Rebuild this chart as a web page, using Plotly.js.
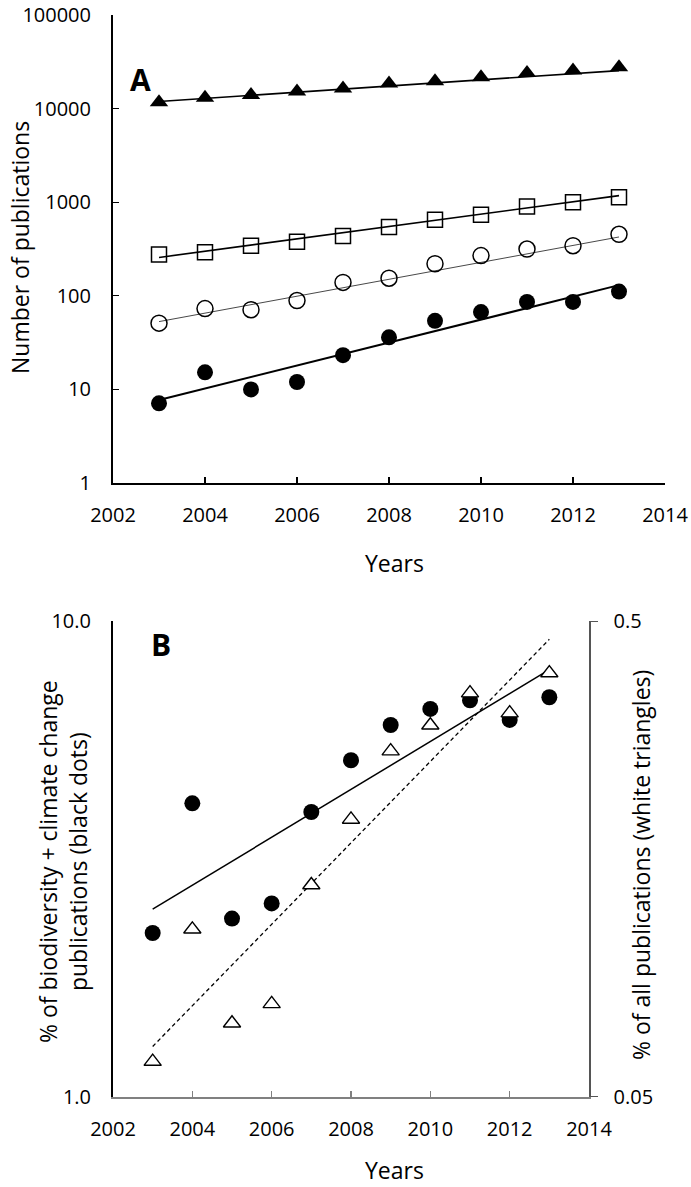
<!DOCTYPE html>
<html>
<head>
<meta charset="utf-8">
<script src="https://cdn.plot.ly/plotly-3.0.1.min.js"></script>
<style>
  html, body { margin: 0; padding: 0; background: #fff; }
  #chart { width: 691px; height: 1187px; }
</style>
</head>
<body>
<div id="chart"></div>
<script>
// ---------- Data ----------
const years = [2003, 2004, 2005, 2006, 2007, 2008, 2009, 2010, 2011, 2012, 2013];

// Panel A: number of publications
const allPubs       = [11700, 13100, 14000, 15200, 16400, 18500, 19600, 21600, 24000, 25600, 27700]; // filled triangles
const squarePubs    = [276, 292, 343, 378, 436, 542, 648, 736, 901, 1000, 1128];                   // open squares
const openCirclePubs= [51, 73, 71, 89, 139, 154, 220, 269, 316, 343, 454];                          // open circles
const dotPubs       = [7.1, 15.2, 10, 12, 23.2, 36, 54, 67, 86, 86, 111];                          // filled circles

// Fitted trend lines in panel A (end values)
const trendYears = [2003, 2013];
const allTrend        = [11900, 25500];
const squareTrend     = [257, 1175];
const openCircleTrend = [53, 425];
const dotTrend        = [7.7, 130];

// Panel B: percentages
const pctBioClim = [2.21, 4.14, 2.37, 2.55, 3.97, 5.1, 6.05, 6.54, 6.82, 6.2, 6.92];             // black dots (left axis)
const pctAll     = [0.0593, 0.1125, 0.0714, 0.0784, 0.1394, 0.1915, 0.2666, 0.3022, 0.353, 0.3204, 0.389]; // white triangles (right axis)
const pctBioClimTrend = [2.48, 7.91];
const pctAllTrend     = [0.0638, 0.458];

// Tick labels
const xTicks = [2002, 2004, 2006, 2008, 2010, 2012, 2014];
const yTicksA = [1, 10, 100, 1000, 10000, 100000];
const yTickTextA = ['1', '10', '100', '1000', '10000', '100000'];
const yTicksBLeft = [1, 10];
const yTickTextBLeft = ['1.0', '10.0'];
const yTicksBRight = [0.05, 0.5];
const yTickTextBRight = ['0.05', '0.5'];

// ---------- Styling ----------
const FONT = 'Open Sans, Noto Sans, sans-serif';
const tickFont = { family: FONT, size: 20, color: '#000' };
const titleFont = { family: FONT, size: 23, color: '#000' };
const W = 691, H = 1187;
const px = x => x / W;
const py = y => 1 - y / H;
const EPS = 0.0004;

const traces = [
  // Panel A trend lines
  { x: trendYears, y: allTrend, xaxis: 'x', yaxis: 'y', mode: 'lines', line: { color: '#000', width: 1.6 }, hoverinfo: 'skip' },
  { x: trendYears, y: squareTrend, xaxis: 'x', yaxis: 'y', mode: 'lines', line: { color: '#000', width: 1.6 }, hoverinfo: 'skip' },
  { x: trendYears, y: openCircleTrend, xaxis: 'x', yaxis: 'y', mode: 'lines', line: { color: '#333', width: 0.9 }, hoverinfo: 'skip' },
  { x: trendYears, y: dotTrend, xaxis: 'x', yaxis: 'y', mode: 'lines', line: { color: '#000', width: 2 }, hoverinfo: 'skip' },
  // Panel A markers
  { x: years, y: allPubs, xaxis: 'x', yaxis: 'y', mode: 'markers',
    marker: { symbol: 'triangle-up', size: 16, color: '#000', line: { width: 0 } } },
  { x: years, y: squarePubs, xaxis: 'x', yaxis: 'y', mode: 'markers',
    marker: { symbol: 'square-open', size: 15, color: '#000', line: { width: 1.5 } } },
  { x: years, y: openCirclePubs, xaxis: 'x', yaxis: 'y', mode: 'markers',
    marker: { symbol: 'circle-open', size: 16, color: '#000', line: { width: 1.5 } } },
  { x: years, y: dotPubs, xaxis: 'x', yaxis: 'y', mode: 'markers',
    marker: { symbol: 'circle', size: 16, color: '#000', line: { width: 0 } } },

  // Panel B trend lines
  { x: trendYears, y: pctBioClimTrend, xaxis: 'x2', yaxis: 'y2', mode: 'lines', line: { color: '#000', width: 1.5 }, hoverinfo: 'skip' },
  { x: trendYears, y: pctAllTrend, xaxis: 'x2', yaxis: 'y3', mode: 'lines', line: { color: '#000', width: 1.3, dash: '4px,3px' }, hoverinfo: 'skip' },
  // Panel B markers
  { x: years, y: pctBioClim, xaxis: 'x2', yaxis: 'y2', mode: 'markers',
    marker: { symbol: 'circle', size: 16, color: '#000', line: { width: 0 } } },
  { x: years, y: pctAll, xaxis: 'x2', yaxis: 'y3', mode: 'markers',
    marker: { symbol: 'triangle-up', size: 15, color: '#fff', line: { color: '#000', width: 1.4 } } }
];

const layout = {
  width: W, height: H, autosize: false,
  margin: { l: 0, r: 0, t: 0, b: 0, pad: 0 },
  paper_bgcolor: '#fff', plot_bgcolor: '#fff',
  showlegend: false,
  font: { family: FONT, color: '#000' },
  xaxis: {
    domain: [px(113), px(665)], anchor: 'y', range: [2002, 2014],
    tickvals: xTicks, ticktext: xTicks.map(String),
    ticks: 'inside', ticklen: 6, tickwidth: 1.3, tickcolor: '#000',
    showline: true, linewidth: 2, linecolor: '#000', ticklabeloverflow: 'allow',
    showgrid: false, zeroline: false, tickfont: tickFont, ticklabelstandoff: 13
  },
  yaxis: {
    domain: [py(483), py(15)], anchor: 'x', type: 'log', range: [-EPS, 5 + EPS],
    tickvals: yTicksA, ticktext: yTickTextA,
    ticks: 'inside', ticklen: 6, tickwidth: 1.3, tickcolor: '#000',
    showline: true, linewidth: 2, linecolor: '#000', ticklabeloverflow: 'allow',
    showgrid: false, zeroline: false, tickfont: tickFont, ticklabelstandoff: 16
  },
  xaxis2: {
    domain: [px(113), px(589)], anchor: 'y2', range: [2002, 2014],
    tickvals: xTicks, ticktext: xTicks.map(String),
    ticks: 'inside', ticklen: 6, tickwidth: 1.2, tickcolor: '#808080',
    showline: true, linewidth: 1.5, linecolor: '#808080', ticklabeloverflow: 'allow',
    showgrid: false, zeroline: false, tickfont: tickFont, ticklabelstandoff: 13
  },
  yaxis2: {
    domain: [py(1097), py(621)], anchor: 'x2', type: 'log', range: [-EPS, 1 + EPS],
    tickvals: yTicksBLeft, ticktext: yTickTextBLeft,
    ticks: 'inside', ticklen: 6, tickwidth: 1.3, tickcolor: '#000',
    showline: true, linewidth: 2, linecolor: '#000', ticklabeloverflow: 'allow',
    showgrid: false, zeroline: false, tickfont: tickFont, ticklabelstandoff: 16
  },
  yaxis3: {
    overlaying: 'y2', side: 'right', anchor: 'x2', type: 'log',
    range: [Math.log10(0.05) - EPS, Math.log10(0.5) + EPS],
    tickvals: yTicksBRight, ticktext: yTickTextBRight,
    ticks: 'outside', ticklen: 7, tickwidth: 1.3, tickcolor: '#555',
    showline: true, linewidth: 1.5, linecolor: '#555', ticklabeloverflow: 'allow',
    showgrid: false, zeroline: false, tickfont: tickFont, ticklabelstandoff: 12
  },
  annotations: [
    { text: 'A', xref: 'paper', yref: 'paper', x: px(140), y: py(79), xanchor: 'center', yanchor: 'middle',
      showarrow: false, font: { family: FONT, size: 30, color: '#000', weight: 'bold' } },
    { text: 'B', xref: 'paper', yref: 'paper', x: px(161), y: py(644), xanchor: 'center', yanchor: 'middle',
      showarrow: false, font: { family: FONT, size: 30, color: '#000', weight: 'bold' } },
    { text: 'Number of publications', xref: 'paper', yref: 'paper', x: px(20), y: py(248),
      xanchor: 'center', yanchor: 'middle', textangle: -90, showarrow: false, font: titleFont },
    { text: 'Years', xref: 'paper', yref: 'paper', x: px(394), y: py(563),
      xanchor: 'center', yanchor: 'middle', showarrow: false, font: titleFont },
    { text: '% of biodiversity + climate change<br>publications (black dots)', xref: 'paper', yref: 'paper',
      x: px(63), y: py(862), xanchor: 'center', yanchor: 'middle', textangle: -90, showarrow: false,
      font: titleFont },
    { text: '% of all publications (white triangles)', xref: 'paper', yref: 'paper', x: px(641), y: py(865),
      xanchor: 'center', yanchor: 'middle', textangle: -90, showarrow: false, font: titleFont },
    { text: 'Years', xref: 'paper', yref: 'paper', x: px(394), y: py(1170),
      xanchor: 'center', yanchor: 'middle', showarrow: false, font: titleFont }
  ]
};

Plotly.newPlot('chart', traces, layout, { staticPlot: true, displayModeBar: false });
</script>
</body>
</html>
